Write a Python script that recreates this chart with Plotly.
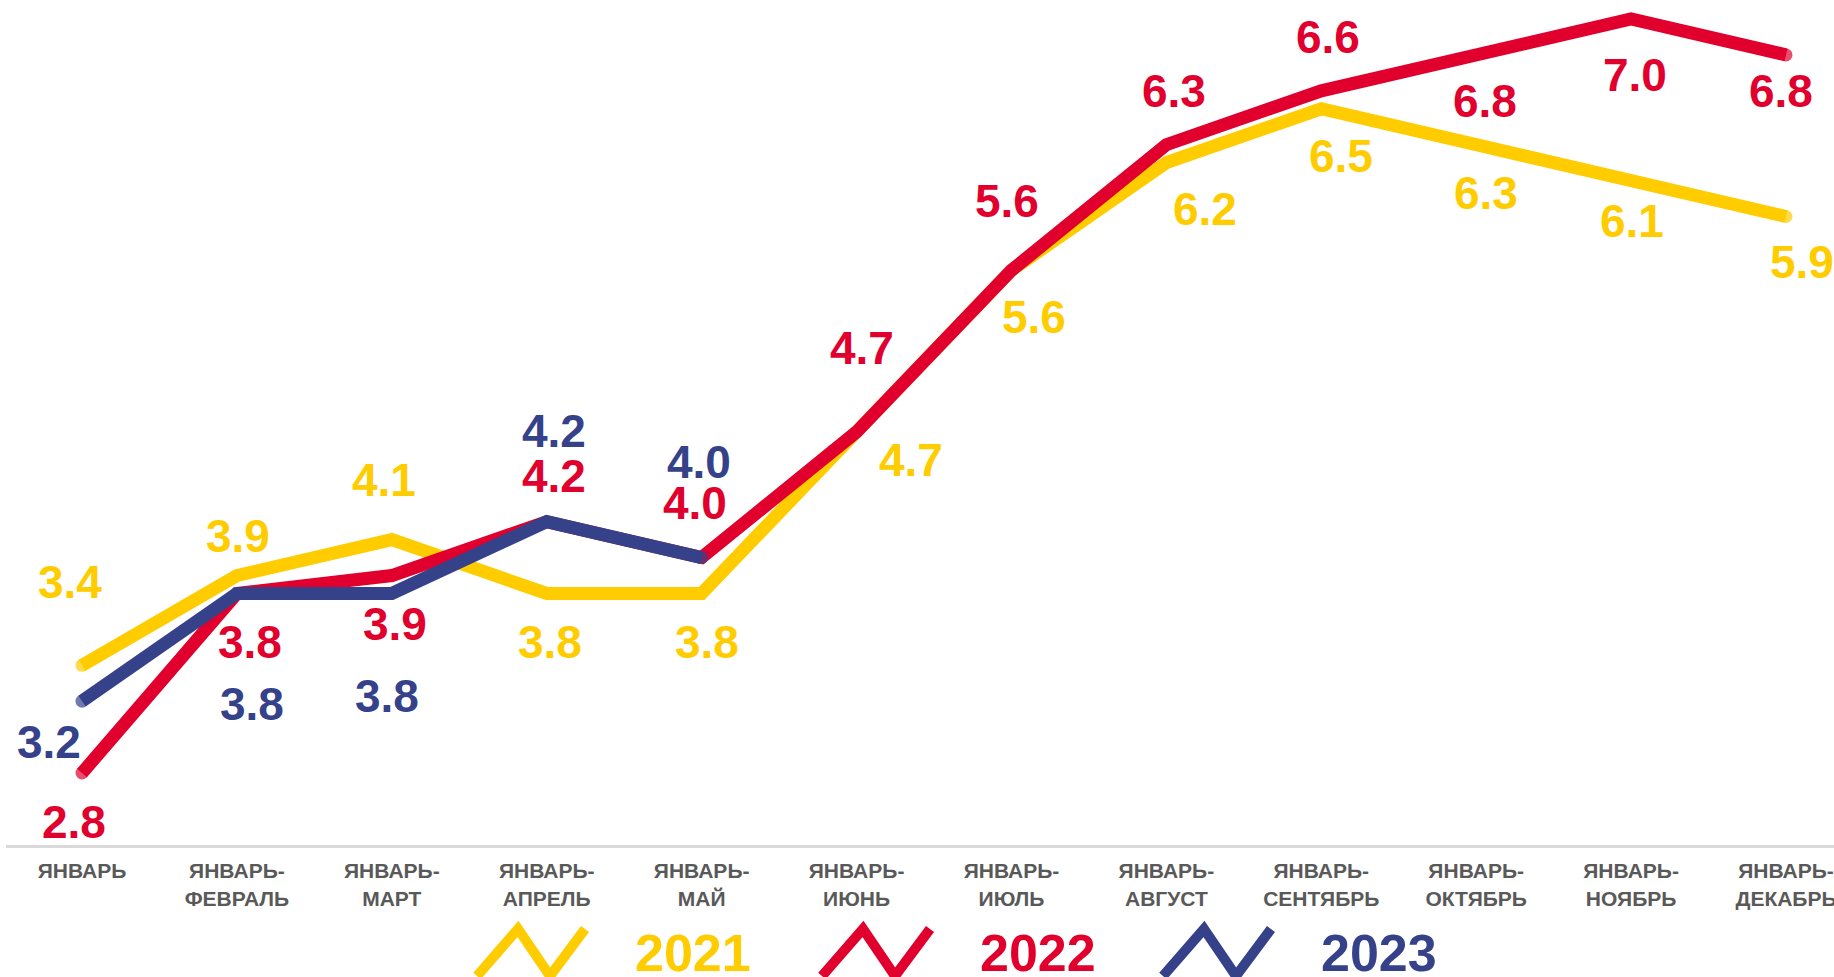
import plotly.graph_objects as go

# ---------------- data ----------------
categories = ["ЯНВАРЬ", "ЯНВАРЬ-<br>ФЕВРАЛЬ", "ЯНВАРЬ-<br>МАРТ", "ЯНВАРЬ-<br>АПРЕЛЬ",
              "ЯНВАРЬ-<br>МАЙ", "ЯНВАРЬ-<br>ИЮНЬ", "ЯНВАРЬ-<br>ИЮЛЬ", "ЯНВАРЬ-<br>АВГУСТ",
              "ЯНВАРЬ-<br>СЕНТЯБРЬ", "ЯНВАРЬ-<br>ОКТЯБРЬ", "ЯНВАРЬ-<br>НОЯБРЬ", "ЯНВАРЬ-<br>ДЕКАБРЬ"]
values_2021 = [3.4, 3.9, 4.1, 3.8, 3.8, 4.7, 5.6, 6.2, 6.5, 6.3, 6.1, 5.9]
values_2022 = [2.8, 3.8, 3.9, 4.2, 4.0, 4.7, 5.6, 6.3, 6.6, 6.8, 7.0, 6.8]
values_2023 = [3.2, 3.8, 3.8, 4.2, 4.0]
series_names = ["2021", "2022", "2023"]

# ---------------- styles ----------------
colors = {"2021": "#FFCC00", "2022": "#E1002D", "2023": "#35428A"}
# label offsets in pixels (dx right, dy down)
offsets = {
    "2021": [(-12, -83), (1, -40), (-8, -60), (3, 49), (5, 49), (54, 28), (23, 47),
             (39, 46), (20, 47), (10, 48), (1, 40), (16, 46)],
    "2022": [(-8, 49), (13, 49), (3, 48), (7, -46), (-7, -55), (5, -84), (-4, -69),
             (8, -54), (7, -54), (9, 46), (4, 56), (-5, 36)],
    "2023": [(-33, 41), (15, 111), (-5, 103), (7, -91), (-3, -96)],
}
data = {"2021": values_2021, "2022": values_2022, "2023": values_2023}

W, H = 1834, 977
ML, MB = 6, 132
LINE_W = 13
FONT = "Liberation Sans, Arial, sans-serif"

fig = go.Figure()
for name in series_names:
    vals = data[name]
    n = len(vals)
    sizes = [LINE_W if i in (0, n - 1) else 0 for i in range(n)]
    fig.add_trace(go.Scatter(
        x=categories[:n], y=vals, mode="lines+markers", name=name,
        line=dict(color=colors[name], width=LINE_W),
        marker=dict(size=sizes, color=colors[name], line=dict(width=0)),
        showlegend=False, hoverinfo="skip", cliponaxis=False,
    ))

annotations = []
for name in series_names:
    vals = data[name]
    for i, v in enumerate(vals):
        dx, dy = offsets[name][i]
        annotations.append(dict(
            x=categories[i], y=v, xref="x", yref="y", text=f"{v:.1f}",
            showarrow=False, xanchor="center", yanchor="middle",
            xshift=dx, yshift=-dy,
            font=dict(family=FONT, size=46, color=colors[name], weight="bold"),
        ))

# ---------------- manual legend ----------------
pw, ph = W - ML, H - MB


def px2paper(px, py):
    return (px - ML) / pw, (H - MB - py) / ph


legend_starts = {"2021": 477, "2022": 822, "2023": 1163}
legend_text_x = {"2021": 693, "2022": 1038, "2023": 1379}
shapes = []
for name in series_names:
    x0 = legend_starts[name]
    pts = [(x0, 976), (x0 + 41, 929), (x0 + 73, 976), (x0 + 108, 929)]
    pp = [px2paper(a, b) for a, b in pts]
    path = "M " + " L ".join(f"{a:.5f},{b:.5f}" for a, b in pp)
    shapes.append(dict(type="path", path=path, xref="paper", yref="paper",
                       line=dict(color=colors[name], width=10), layer="above"))
    tx, ty = px2paper(legend_text_x[name], 953)
    annotations.append(dict(
        x=tx, y=ty, xref="paper", yref="paper", text=name, showarrow=False,
        xanchor="center", yanchor="middle",
        font=dict(family=FONT, size=52, color=colors[name], weight="bold"),
    ))

# y range: 2.8 at px 773, 7.0 at px 19 (plot top = 0, bottom = 845)
ppu = (773 - 19) / 4.2
y_top = 7.0 + 19 / ppu
y_bot = y_top - (H - MB) / ppu
cat_step = (1786 - 82) / 11
x_lo = -(82 - ML) / cat_step
x_hi = 11 + (W - 1786) / cat_step

fig.update_layout(
    width=W, height=H,
    margin=dict(l=ML, r=0, t=0, b=MB),
    paper_bgcolor="white", plot_bgcolor="white",
    xaxis=dict(type="category", range=[x_lo, x_hi], showgrid=False, zeroline=False,
               showline=True, linecolor="#D9D9D9", linewidth=3, ticks="",
               ticklabelstandoff=5,
               tickfont=dict(family=FONT, size=21, color="#595959", weight="bold"),
               automargin=False),
    yaxis=dict(range=[y_bot, y_top], visible=False, showgrid=False, zeroline=False,
               automargin=False),
    annotations=annotations, shapes=shapes,
    showlegend=False,
)

fig.write_html(
    "out.html",
    config={"displayModeBar": False, "staticPlot": True},
    post_script="document.body.style.margin='0';document.body.style.overflow='hidden';",
)
